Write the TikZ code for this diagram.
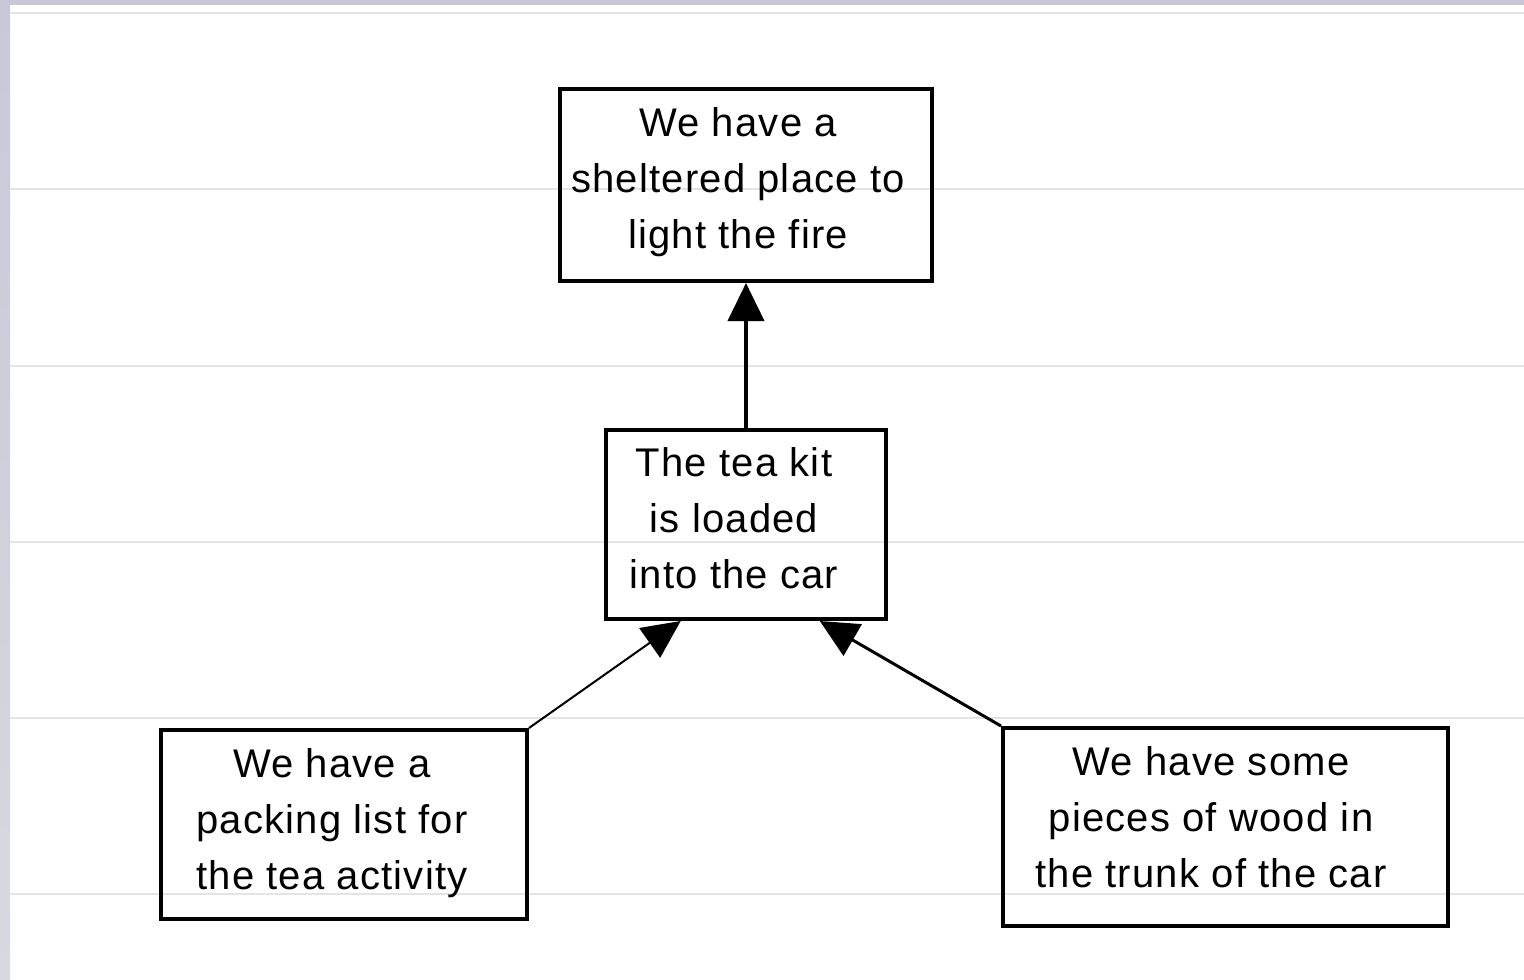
\documentclass[tikz,border=0pt]{standalone}
\usepackage{fontspec}
\setmainfont{Liberation Sans}[LetterSpace=3]
\usetikzlibrary{arrows.meta,calc}
\definecolor{band}{HTML}{C8C8D8}
\definecolor{bandlow}{HTML}{D8D8E0}
\definecolor{rule}{HTML}{E4E4E4}
\tikzset{
  box/.style={draw=black,line width=4pt,inner sep=0pt},
  txt/.style={inner sep=0pt,align=center,font=\fontsize{40}{56}\selectfont},
  conn/.style={draw=black,-{Triangle[length=38pt,width=36pt]}},
}
\begin{document}
\begin{tikzpicture}[x=1pt,y=-1pt]
\useasboundingbox (0,0) rectangle (1524,980);
\fill[white] (0,0) rectangle (1524,980);
\shade[top color=band,bottom color=bandlow] (0,0) rectangle (10,980);
\fill[band] (0,0) rectangle (1524,5);
\foreach \yy in {13,189,366,542,718,894} {
  \draw[rule,line width=1.5pt] (10,\yy) -- (1524,\yy);
}
\node[box,minimum width=372pt,minimum height=192pt] (top) at (746,185) {};
\node[box,minimum width=280pt,minimum height=189pt] (mid) at (746,524.5) {};
\node[box,minimum width=366pt,minimum height=189pt] (left) at (344,824.5) {};
\node[box,minimum width=445pt,minimum height=198pt] (right) at (1225.5,827) {};
\node[txt] (toptxt) at (738,182) {We have a\\sheltered place to\\light the fire};
\node[txt] (midtxt) at (734,518) {The tea kit\\is loaded\\into the car};
\node[txt] (lefttxt) at (332,823) {We have a\\packing list for\\the tea activity};
\node[txt] (righttxt) at (1211,817) {We have some\\pieces of wood in\\the trunk of the car};
\draw[conn,line width=4pt] (mid.north) -- (top.south);
\draw[conn,line width=2pt] (left.north east) -- ($(mid.south west)!0.27!(mid.south east)$);
\draw[conn,line width=3pt] (right.north west) -- ($(mid.south west)!0.76!(mid.south east)$);
\end{tikzpicture}
\end{document}
